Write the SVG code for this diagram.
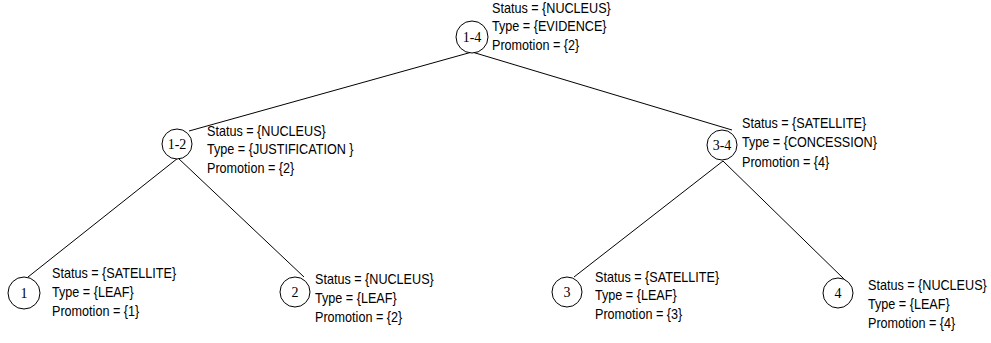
<svg xmlns="http://www.w3.org/2000/svg" width="991" height="343" viewBox="0 0 991 343">
<style>
.n{fill:#fff;stroke:#000;stroke-width:1}
.nl{font-family:"Liberation Serif","Times New Roman",serif;font-size:14px;text-anchor:middle;fill:#000}
.t{font-family:"Liberation Sans",Arial,sans-serif;font-size:14.5px;fill:#000}
.e{stroke:#000;stroke-width:1;fill:none}
</style>
<rect width="991" height="343" fill="#fff"/>
<g id="connectors">
<line class="e" x1="472" y1="52" x2="189" y2="131"/>
<line class="e" x1="472" y1="52" x2="732" y2="130"/>
<line class="e" x1="178" y1="158" x2="28" y2="277"/>
<line class="e" x1="178" y1="158" x2="304" y2="277"/>
<line class="e" x1="723" y1="161" x2="574" y2="277"/>
<line class="e" x1="723" y1="161" x2="845" y2="280"/>
</g>
<g id="node-1-4">
<circle class="n" cx="472" cy="37" r="16"/>
<text class="nl" x="472" y="42">1-4</text>
<g transform="translate(492,12.5) scale(0.87,1)"><text class="t" x="0" y="0">Status = {NUCLEUS}</text><text class="t" x="0" y="19">Type = {EVIDENCE}</text><text class="t" x="0" y="38">Promotion = {2}</text></g>
</g>
<g id="node-1-2">
<circle class="n" cx="177" cy="144" r="15"/>
<text class="nl" x="177" y="149">1-2</text>
<g transform="translate(207,135.5) scale(0.87,1)"><text class="t" x="0" y="0">Status = {NUCLEUS}</text><text class="t" x="0" y="19">Type = {JUSTIFICATION }</text><text class="t" x="0" y="38">Promotion = {2}</text></g>
</g>
<g id="node-3-4">
<circle class="n" cx="722" cy="145" r="15"/>
<text class="nl" x="722" y="150">3-4</text>
<g transform="translate(742,128) scale(0.87,1)"><text class="t" x="0" y="0">Status = {SATELLITE}</text><text class="t" x="0" y="19.5">Type = {CONCESSION}</text><text class="t" x="0" y="39">Promotion = {4}</text></g>
</g>
<g id="node-1">
<circle class="n" cx="24" cy="293" r="16"/>
<text class="nl" x="24" y="298">1</text>
<g transform="translate(52,278) scale(0.87,1)"><text class="t" x="0" y="0">Status = {SATELLITE}</text><text class="t" x="0" y="19">Type = {LEAF}</text><text class="t" x="0" y="38">Promotion = {1}</text></g>
</g>
<g id="node-2">
<circle class="n" cx="295" cy="292" r="15"/>
<text class="nl" x="295" y="297">2</text>
<g transform="translate(315,284) scale(0.87,1)"><text class="t" x="0" y="0">Status = {NUCLEUS}</text><text class="t" x="0" y="19">Type = {LEAF}</text><text class="t" x="0" y="38">Promotion = {2}</text></g>
</g>
<g id="node-3">
<circle class="n" cx="567" cy="292" r="15"/>
<text class="nl" x="567" y="297">3</text>
<g transform="translate(595,281.5) scale(0.87,1)"><text class="t" x="0" y="0">Status = {SATELLITE}</text><text class="t" x="0" y="19">Type = {LEAF}</text><text class="t" x="0" y="38">Promotion = {3}</text></g>
</g>
<g id="node-4">
<circle class="n" cx="838" cy="293" r="15"/>
<text class="nl" x="838" y="298">4</text>
<g transform="translate(868,290) scale(0.87,1)"><text class="t" x="0" y="0">Status = {NUCLEUS}</text><text class="t" x="0" y="19">Type = {LEAF}</text><text class="t" x="0" y="38">Promotion = {4}</text></g>
</g>
</svg>
